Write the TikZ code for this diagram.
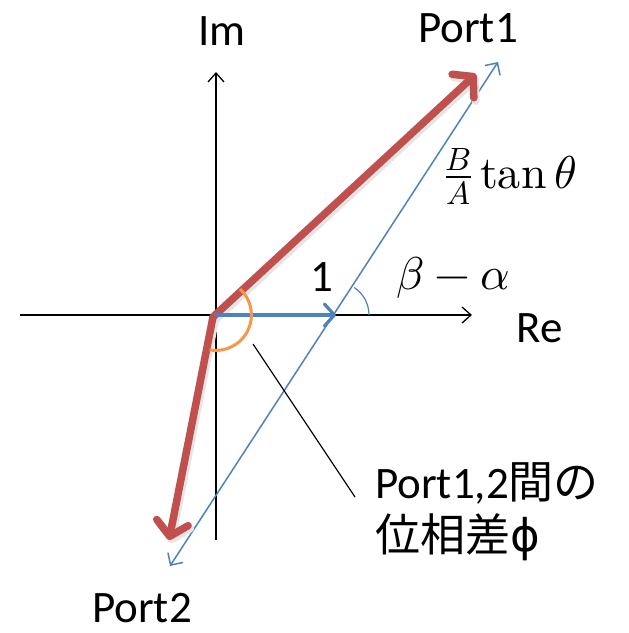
\documentclass[tikz,border=0pt]{standalone}
\usepackage{fontspec}
\usepackage{unicode-math}
\setmainfont{Carlito}
\setmathfont{Latin Modern Math}
\newfontfamily\jp{Noto Sans CJK JP}
\usetikzlibrary{arrows.meta,calc}
\definecolor{ored}{HTML}{C0504D}
\definecolor{oblue}{HTML}{4F81BD}
\definecolor{oorange}{HTML}{F79646}
\tikzset{
  lbl/.style={font=\fontsize{45}{54}\selectfont, inner sep=0pt},
  mathlbl/.style={font=\fontsize{46}{54}\selectfont, inner sep=0pt},
  axis/.style={draw=black, line width=1.3pt, -{Straight Barb[length=9pt,width=16pt,line width=1.3pt]}},
  redvec/.style={draw=ored, line width=7.5pt, line cap=round, line join=round,
     -{Straight Barb[length=14pt,width=32pt,line width=7.5pt,round]}},
  shadowvec/.style={draw=black!10, line width=8pt, line cap=round, line join=round,
     -{Straight Barb[length=14pt,width=32pt,line width=8pt,round]}},
  bluethin/.style={draw=oblue, line width=1.5pt,
     {Straight Barb[length=9pt,width=18pt,line width=1.5pt]}-{Straight Barb[length=9pt,width=18pt,line width=1.5pt]}},
  bluethick/.style={draw=oblue, line width=3.2pt, line cap=round,
     -{Straight Barb[length=10pt,width=22pt,line width=3.2pt,round]}},
}
\begin{document}
\begin{tikzpicture}[x=1pt,y=-1pt]
\useasboundingbox (0,0) rectangle (629,633);
% coordinates
\coordinate (O) at (216,315);
\coordinate (xl) at (20,315);
\coordinate (xr) at (472,315);
\coordinate (yb) at (216,540);
\coordinate (yt) at (216,72);
\coordinate (P1) at (476,74);
\coordinate (P2) at (169,540);
\coordinate (Ob) at (213,317);
\coordinate (B1) at (498,62);
\coordinate (B2) at (170,566);
\coordinate (X) at (336,315);
\coordinate (L1) at (253,344);
\coordinate (L2) at (355,497);
% axes
\draw[axis] (xl) -- (xr);
\draw[axis] (yb) -- (yt);
% blue thin line
\draw[bluethin] (B2) -- (B1);
% angle arc beta-alpha
\draw[oblue, line width=1.2pt] ($(X)+(33,0)$) arc[start angle=0, end angle=-56.6, radius=33];
% red vectors (shadow then vector)
\draw[shadowvec] ([shift={(2,3)}]Ob) -- ([shift={(2,3)}]P1);
\draw[shadowvec] ([shift={(2,3)}]Ob) -- ([shift={(2,3)}]P2);
\draw[redvec] (Ob) -- (P1);
\draw[redvec] (Ob) -- (P2);
% blue thick unit vector
\draw[bluethick] (O) -- (X);
% orange arc
\draw[oorange, line width=3pt] ($(O)+(24,-26)$) arc[start angle=-47.3, end angle=100.6, radius=35.4];
% pointer line
\draw[black, line width=1.2pt] (L1) -- (L2);
% labels
\node[lbl] (im) at (222,31) {Im};
\node[lbl] (re) at (540,328) {Re};
\node[lbl] (p1) at (468,28) {Port1};
\node[lbl] (p2) at (142,608) {Port2};
\node[lbl] (one) at (322,277) {1};
\node[mathlbl] (ba) at (453,278) {$\beta-\alpha$};
\node[mathlbl] (bt) at (511,176) {$\frac{B}{A}\,\symup{tan}\,\theta$};
\node[lbl, anchor=west] (ph1) at (375,483) {Port1,2{\jp 間の}};
\node[lbl, anchor=west] (ph2) at (375,537) {{\jp 位相差}{\fontspec{DejaVu Sans}ϕ}};
\end{tikzpicture}
\end{document}
